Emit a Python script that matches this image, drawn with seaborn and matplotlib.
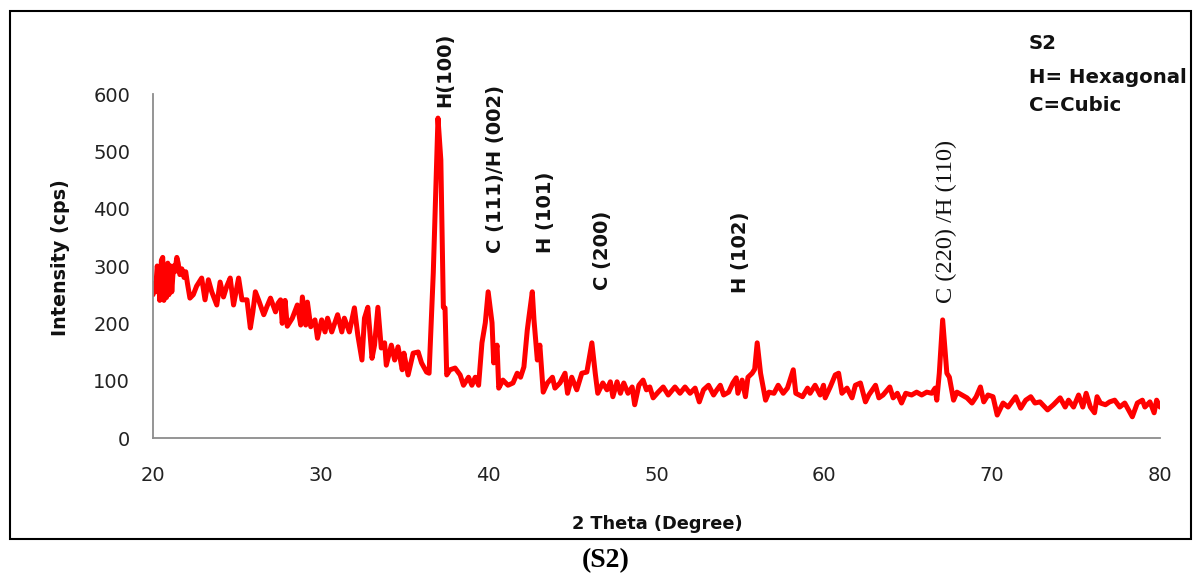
import matplotlib
matplotlib.use("Agg")
import matplotlib.pyplot as plt
from matplotlib.patches import Rectangle
import seaborn as sns
import pandas as pd

# XRD pattern of sample S2: 2-theta (degree) and intensity (cps)
two_theta = [
    20.00, 20.08, 20.15, 20.25, 20.32, 20.40, 20.50, 20.58, 20.65, 20.72,
    20.80, 20.88, 20.95, 21.05, 21.12, 21.22, 21.30, 21.42, 21.50, 21.60,
    21.72, 21.85, 21.95, 22.05, 22.20, 22.40, 22.60, 22.90, 23.10, 23.30,
    23.50, 23.80, 24.00, 24.20, 24.40, 24.60, 24.80, 25.10, 25.30, 25.60,
    25.80, 25.95, 26.10, 26.30, 26.60, 26.80, 27.00, 27.30, 27.45, 27.60,
    27.70, 27.87, 28.00, 28.30, 28.60, 28.80, 28.90, 29.10, 29.20, 29.40,
    29.65, 29.80, 30.05, 30.25, 30.40, 30.65, 31.00, 31.25, 31.40, 31.70,
    32.00, 32.20, 32.45, 32.60, 32.80, 33.05, 33.20, 33.40, 33.60, 33.80,
    33.90, 34.20, 34.40, 34.60, 34.85, 34.95, 35.20, 35.50, 35.80, 36.00,
    36.30, 36.45, 36.70, 36.98, 37.15, 37.30, 37.40, 37.50, 37.70, 38.00,
    38.30, 38.50, 38.80, 39.00, 39.20, 39.40, 39.60, 39.80, 39.97, 40.20,
    40.30, 40.50, 40.60, 40.85, 41.15, 41.45, 41.70, 41.90, 42.10, 42.30,
    42.40, 42.60, 42.70, 42.90, 43.05, 43.25, 43.50, 43.80, 43.95, 44.25,
    44.55, 44.70, 44.95, 45.25, 45.55, 45.85, 46.15, 46.35, 46.50, 46.80,
    47.05, 47.25, 47.40, 47.65, 47.85, 48.05, 48.30, 48.55, 48.70, 48.95,
    49.20, 49.40, 49.60, 49.80, 50.10, 50.40, 50.70, 51.10, 51.40, 51.70,
    52.00, 52.30, 52.55, 52.80, 53.10, 53.40, 53.60, 53.80, 54.00, 54.30,
    54.55, 54.75, 54.85, 55.10, 55.30, 55.45, 55.70, 55.85, 56.00, 56.20,
    56.50, 56.70, 57.00, 57.25, 57.55, 57.80, 58.15, 58.30, 58.70, 59.00,
    59.15, 59.45, 59.75, 59.95, 60.05, 60.35, 60.65, 60.85, 61.05, 61.35,
    61.65, 61.85, 62.15, 62.45, 62.65, 63.05, 63.25, 63.50, 63.90, 64.10,
    64.35, 64.60, 64.85, 65.20, 65.50, 65.80, 66.10, 66.40, 66.60, 66.70,
    66.85, 67.05, 67.30, 67.45, 67.70, 67.90, 68.20, 68.50, 68.80, 69.05,
    69.30, 69.50, 69.75, 70.05, 70.30, 70.65, 70.95, 71.40, 71.70, 72.00,
    72.30, 72.55, 72.85, 73.30, 73.65, 74.05, 74.35, 74.55, 74.85, 75.15,
    75.40, 75.60, 75.85, 76.10, 76.25, 76.45, 76.75, 77.00, 77.30, 77.60,
    77.90, 78.35, 78.65, 78.95, 79.10, 79.40, 79.65, 79.80, 80.00,
]
intensity = [
    250, 270, 255, 300, 290, 240, 310, 315, 240, 300,
    245, 305, 250, 300, 255, 300, 290, 315, 305, 285,
    295, 280, 290, 270, 244, 250, 265, 279, 241, 276,
    255, 232, 272, 246, 265, 279, 232, 279, 241, 241,
    192, 220, 255, 240, 215, 230, 244, 220, 235, 241,
    200, 240, 195, 209, 232, 197, 246, 197, 237, 194,
    206, 174, 206, 185, 209, 185, 215, 185, 209, 185,
    227, 180, 136, 209, 228, 139, 162, 228, 157, 166,
    127, 162, 136, 159, 119, 148, 110, 148, 150, 131,
    115, 113, 288, 558, 485, 228, 227, 110, 119, 122,
    110, 92, 106, 92, 106, 92, 166, 201, 255, 201,
    131, 162, 87, 101, 92, 96, 113, 106, 124, 188,
    211, 255, 206, 136, 162, 80, 96, 106, 87, 96,
    113, 78, 106, 84, 113, 115, 166, 113, 78, 96,
    84, 98, 72, 98, 78, 96, 78, 89, 58, 92,
    101, 84, 89, 70, 80, 89, 75, 89, 78, 89,
    78, 87, 63, 84, 92, 75, 84, 92, 75, 80,
    96, 105, 78, 101, 72, 106, 113, 120, 166, 113,
    66, 80, 78, 92, 78, 87, 119, 78, 72, 87,
    78, 92, 75, 92, 70, 89, 110, 113, 78, 87,
    70, 92, 96, 63, 75, 92, 70, 75, 89, 70,
    78, 61, 78, 75, 80, 75, 80, 78, 87, 66,
    113, 206, 113, 106, 66, 80, 75, 70, 61, 72,
    89, 63, 75, 72, 40, 61, 54, 72, 52, 66,
    72, 61, 63, 49, 58, 70, 54, 66, 54, 75,
    54, 78, 54, 44, 72, 61, 58, 63, 66, 54,
    61, 37, 61, 66, 54, 63, 44, 66, 54,
]

# Reflection labels: text, 2-theta position, intensity at the label's base
peak_labels = ["H(100)", "C (111)/H (002)", "H (101)", "C (200)", "H (102)"]
peak_label_x = [37.4, 40.38, 43.36, 46.8, 55.0]
peak_label_y = [577, 323, 323, 258, 253]
serif_label = "C (220) /H (110)"
serif_label_x = 67.26
serif_label_y = 235

legend_lines = ["S2", "H= Hexagonal", "C=Cubic"]

x_ticks = [20, 30, 40, 50, 60, 70, 80]
y_ticks = [0, 100, 200, 300, 400, 500, 600]

sns.set_style("white")
plt.rcParams["font.family"] = ["DejaVu Sans"]

df = pd.DataFrame({"two_theta": two_theta, "intensity": intensity})

fig = plt.figure(figsize=(11.94, 5.74), dpi=100)
ax = fig.add_axes([153 / 1194, 1 - 438 / 574, 1007 / 1194, 344 / 574])

sns.lineplot(data=df, x="two_theta", y="intensity", ax=ax, color="#ff0000",
             linewidth=3.6, estimator=None, sort=False)

ax.set_xlim(20, 80)
ax.set_ylim(0, 600)
ax.set_xticks(x_ticks)
ax.set_yticks(y_ticks)
ax.set_xlabel("")
ax.set_ylabel("")

axis_grey = "#8c8c8c"
for side in ("top", "right"):
    ax.spines[side].set_visible(False)
for side in ("left", "bottom"):
    ax.spines[side].set_color(axis_grey)
    ax.spines[side].set_linewidth(1.3)
ax.tick_params(axis="both", direction="out", length=6.5, width=1.2,
               color=axis_grey, labelsize=14, labelcolor="#222222")
ax.tick_params(axis="y", pad=10)
ax.tick_params(axis="x", pad=14)
ax.grid(False)

# Axis titles
fig.text(60 / 1194, 1 - 258 / 574, "Intensity (cps)", rotation=90,
         ha="center", va="center", fontsize=13.8, fontweight="bold",
         color="#111111")
fig.text(657 / 1194, 1 - 524 / 574, "2 Theta (Degree)", ha="center",
         va="center", fontsize=12.8, fontweight="bold", color="#111111")

# Reflection labels
for txt, px, py in zip(peak_labels, peak_label_x, peak_label_y):
    ax.text(px, py, txt, rotation=90, ha="center", va="bottom",
            fontsize=14, fontweight="bold", color="#111111", clip_on=False)
ax.text(serif_label_x, serif_label_y, serif_label, rotation=90, ha="center",
        va="bottom", fontsize=17.5, family="Liberation Serif",
        color="#111111", clip_on=False)

# Sample key
legend_baselines = [49, 83, 111]
for txt, base in zip(legend_lines, legend_baselines):
    fig.text(1029 / 1194, 1 - base / 574, txt, ha="left", va="baseline",
             fontsize=14.2, fontweight="bold", color="#111111")

# Chart frame and caption
frame = Rectangle((10 / 1194, 1 - 539 / 574), 1181 / 1194, 528 / 574,
                  transform=fig.transFigure, fill=False, edgecolor="black",
                  linewidth=1.5)
fig.add_artist(frame)
fig.text(606 / 1194, 1 - 561 / 574, "(S2)", ha="center", va="center",
         fontsize=20, fontweight="bold", family="Liberation Serif",
         color="black")

fig.savefig("out.png", dpi=100, facecolor="white")
